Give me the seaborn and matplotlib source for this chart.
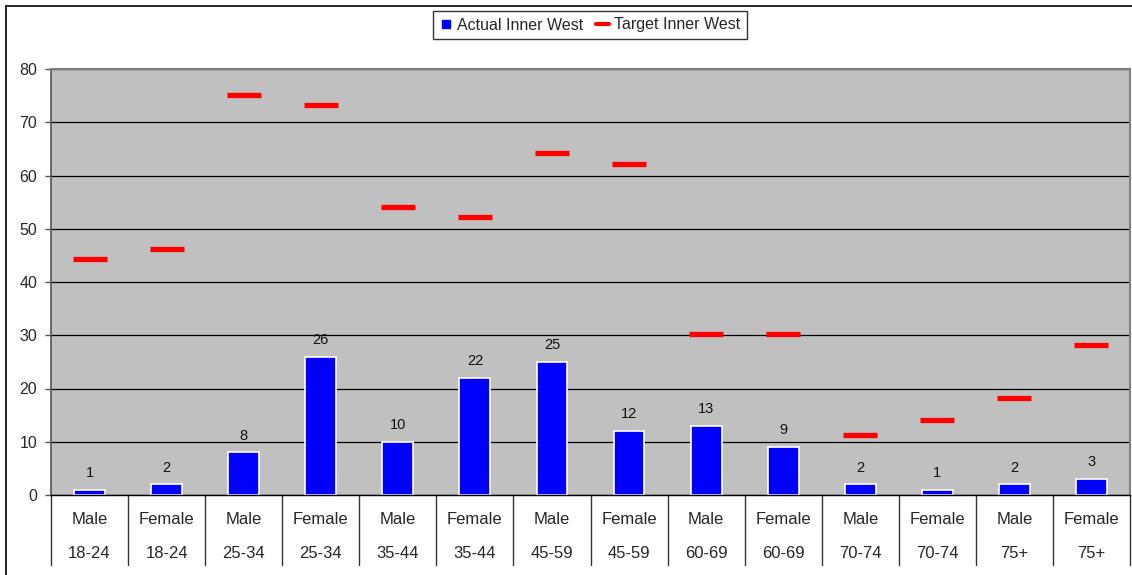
import pandas as pd
import seaborn as sns
import matplotlib.pyplot as plt
from matplotlib.lines import Line2D
from matplotlib.transforms import blended_transform_factory

# chart data
genders = ["Male", "Female"] * 7
age_groups = ["18-24", "18-24", "25-34", "25-34", "35-44", "35-44", "45-59",
              "45-59", "60-69", "60-69", "70-74", "70-74", "75+", "75+"]
actual = [1, 2, 8, 26, 10, 22, 25, 12, 13, 9, 2, 1, 2, 3]
target = [44.3, 46.2, 75.1, 73.2, 54.1, 52.2, 64.2, 62.2, 30.3, 30.3, 11.2, 14.1, 18.2, 28.1]

df = pd.DataFrame({
    "group": [f"{g} {a}" for g, a in zip(genders, age_groups)],
    "gender": genders,
    "age": age_groups,
    "actual": actual,
    "target": target,
})

sns.set_style("white")
plt.rcParams["font.family"] = ["Liberation Sans", "DejaVu Sans"]

W, H = 1132, 575
fig = plt.figure(figsize=(W / 100, H / 100), dpi=100)
ax = fig.add_axes([51 / W, 1 - 495 / H, (1130 - 51) / W, (495 - 69) / H])
ax.set_facecolor("#c0c0c0")

# horizontal gridlines below the marks
ax.set_axisbelow(True)
ax.yaxis.grid(True, color="black", linewidth=0.9)

sns.barplot(data=df, x="group", y="actual", color="#0000ff", width=0.4,
            edgecolor="white", linewidth=1.2, saturation=1, ax=ax)
ax.bar_label(ax.containers[0], labels=[str(v) for v in actual],
             padding=7, fontsize=10.5, color="#111111")

sns.pointplot(data=df, x="group", y="target", color="red", linestyle="none",
              marker="_", markersize=24, markeredgewidth=3.8, ax=ax)

ax.set_ylim(0, 80)
ax.set_yticks(range(0, 81, 10))
ax.set_xlim(-0.5, len(df) - 0.5)
ax.set_xlabel("")
ax.set_ylabel("")
ax.set_xticks([])
ax.tick_params(axis="y", direction="out", length=4, width=1, color="#555555",
               pad=6, labelsize=11.5, left=True)

for side in ["top", "right"]:
    ax.spines[side].set_color("#808080")
    ax.spines[side].set_linewidth(1.5)
ax.spines["left"].set_color("#555555")
ax.spines["left"].set_linewidth(1.2)
ax.spines["bottom"].set_color("black")
ax.spines["bottom"].set_linewidth(1)

# two level category axis
trans = blended_transform_factory(ax.transData, ax.transAxes)
axis_h = (495 - 69)
sep_bottom = -(565 - 495) / axis_h
for i in range(len(df) + 1):
    ax.plot([i - 0.5, i - 0.5], [0, sep_bottom], color="#333333", lw=1,
            transform=trans, clip_on=False)
for i, (g, a) in enumerate(zip(genders, age_groups)):
    ax.text(i, -(520 - 495) / axis_h, g, transform=trans, ha="center",
            va="center", fontsize=12)
    ax.text(i, -(554 - 495) / axis_h, a, transform=trans, ha="center",
            va="center", fontsize=12)

# chart area border (left and top visible)
fig.add_artist(Line2D([6 / W, 6 / W], [0, 1 - 6 / H], color="black", lw=1.2))
fig.add_artist(Line2D([6 / W, 1], [1 - 6 / H, 1 - 6 / H], color="black", lw=1.2))

handles = [
    Line2D([], [], color="#0000ff", marker="s", linestyle="none", markersize=6),
    Line2D([], [], color="red", lw=3),
]
leg = fig.legend(handles, ["Actual Inner West", "Target Inner West"],
                 loc="center", bbox_to_anchor=(590 / W, 1 - 25 / H), ncol=2,
                 frameon=True, fancybox=False, fontsize=11.5, handlelength=0.8,
                 handletextpad=0.3, columnspacing=0.8, borderpad=0.4)
leg.get_frame().set_edgecolor("black")
leg.get_frame().set_linewidth(1)

fig.savefig("out.png", dpi=100)
